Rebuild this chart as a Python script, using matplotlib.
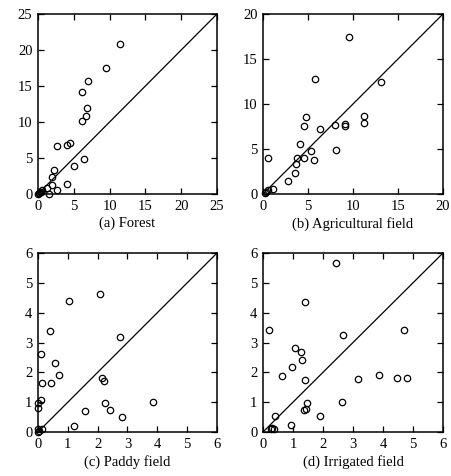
import matplotlib
matplotlib.use("Agg")
import matplotlib.pyplot as plt

plt.rcParams['font.family'] = ['Liberation Serif', 'DejaVu Serif']

# (a) Forest
forest_x = [11.5, 9.5, 7.0, 6.1, 6.8, 6.7, 6.2, 4.4, 4.0, 2.7, 6.4, 5.0, 2.3, 2.0,
            4.0, 1.9, 1.2, 2.6, 1.6, 0.6, 0.4, 0.3, 0.2, 0.1, 0.0]
forest_y = [20.8, 17.5, 15.7, 14.2, 12.0, 10.9, 10.1, 7.1, 6.8, 6.7, 4.8, 3.9, 3.4, 2.3,
            1.4, 1.3, 0.9, 0.5, 0.05, 0.5, 0.3, 0.3, 0.2, 0.1, 0.0]

# (b) Agricultural field
agri_x = [9.6, 5.8, 13.1, 4.8, 4.6, 11.2, 11.2, 8.0, 9.1, 9.1, 6.3, 4.1, 0.6, 3.8,
          4.6, 5.3, 8.1, 5.7, 3.7, 3.6, 2.8, 1.1, 0.55, 0.3, 0.2]
agri_y = [17.5, 12.8, 12.4, 8.6, 7.6, 8.7, 7.9, 7.7, 7.8, 7.6, 7.2, 5.6, 4.0, 4.0,
          4.0, 4.8, 4.9, 3.8, 3.3, 2.3, 1.4, 0.6, 0.4, 0.2, 0.1]

# (c) Paddy field
paddy_x = [2.07, 1.03, 0.41, 2.75, 0.11, 0.56, 0.71, 0.15, 0.45, 2.16, 2.21, 0.11,
           0.0, 0.0, 2.26, 3.87, 1.57, 2.43, 2.80, 1.20, 0.13, 0.0, 0.0, 0.03]
paddy_y = [4.63, 4.40, 3.40, 3.18, 2.60, 2.30, 1.90, 1.63, 1.64, 1.81, 1.71, 1.06,
           0.97, 0.79, 0.96, 1.00, 0.71, 0.74, 0.50, 0.20, 0.10, 0.11, 0.0, 0.03]

# (d) Irrigated field
irr_x = [2.45, 1.39, 0.19, 4.70, 2.67, 1.08, 1.28, 1.30, 0.97, 0.63, 1.41, 3.17, 3.88,
         4.47, 4.80, 1.48, 2.65, 1.38, 1.45, 1.89, 0.39, 0.92, 0.30, 0.36, 0.27]
irr_y = [5.67, 4.37, 3.43, 3.41, 3.24, 2.83, 2.69, 2.40, 2.17, 1.88, 1.74, 1.76, 1.92,
         1.81, 1.81, 0.98, 1.01, 0.74, 0.77, 0.52, 0.52, 0.23, 0.12, 0.10, 0.10]

panels = [
    (forest_x, forest_y, 25, [0, 5, 10, 15, 20, 25], '(a) Forest'),
    (agri_x, agri_y, 20, [0, 5, 10, 15, 20], '(b) Agricultural field'),
    (paddy_x, paddy_y, 6, [0, 1, 2, 3, 4, 5, 6], '(c) Paddy field'),
    (irr_x, irr_y, 6, [0, 1, 2, 3, 4, 5, 6], '(d) Irrigated field'),
]

W, H = 452, 476
fig = plt.figure(figsize=(W / 100, H / 100), dpi=100)
# axes boxes in pixels: left, top, right, bottom
boxes = [(38, 14, 217, 194), (263, 14, 443, 194),
         (38, 253, 217, 432), (263, 253, 443, 432)]

for (xs, ys, lim, ticks, label), (l, t, r, b) in zip(panels, boxes):
    ax = fig.add_axes([l / W, 1 - b / H, (r - l) / W, (b - t) / H])
    ax.plot([0, lim], [0, lim], color='black', lw=0.9)
    ax.plot(xs, ys, 'o', mfc='none', mec='black', ms=4.6, mew=0.9, clip_on=False)
    ax.set_xlim(0, lim)
    ax.set_ylim(0, lim)
    ax.set_xticks(ticks)
    ax.set_yticks(ticks)
    ax.tick_params(direction='in', top=True, right=True, length=4, width=0.9,
                   labelsize=10.5, pad=4)
    for s in ax.spines.values():
        s.set_linewidth(1.1)
    ax.set_xlabel(label, fontsize=10.5, labelpad=3)

fig.savefig('out.png', dpi=100)
